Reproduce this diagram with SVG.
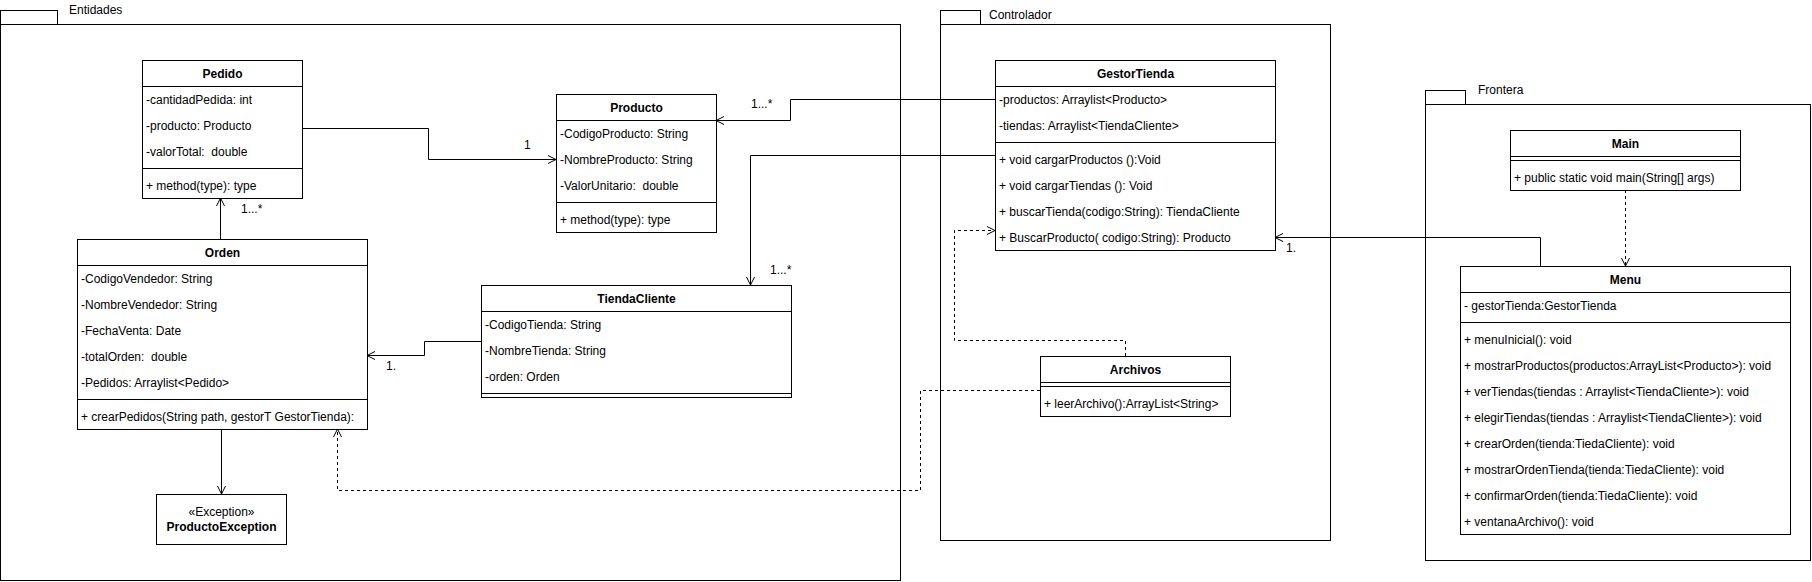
<svg xmlns="http://www.w3.org/2000/svg" width="1812" height="582" viewBox="0 0 1812 582">
<style>
text{font-family:"Liberation Sans",Arial,sans-serif;font-size:12px;fill:#000;white-space:pre}
.t{font-weight:bold;text-anchor:middle}
.c{text-anchor:middle}
.box{fill:#fff;stroke:#000;stroke-width:1}
.pkg{fill:none;stroke:#000;stroke-width:1}
.ln{fill:none;stroke:#000;stroke-width:1}
.conn{fill:none;stroke:#000;stroke-width:1;marker-end:url(#open)}
.dash{stroke-dasharray:3 3}
</style>
<defs>
<marker id="open" markerUnits="userSpaceOnUse" markerWidth="10" markerHeight="10" viewBox="0 0 10 10" refX="9" refY="5" orient="auto">
<path d="M1,1 L9,5 L1,9" fill="none" stroke="#000" stroke-width="1" stroke-dasharray="none"/>
</marker>
</defs>
<rect width="1812" height="582" fill="#fff"/>

<g id="pkg-entidades">
<rect class="pkg" x="0.5" y="10.5" width="57" height="14"/>
<rect class="pkg" x="0.5" y="24.5" width="900" height="556"/>
<text x="69" y="14">Entidades</text>
</g>
<g id="pkg-controlador">
<rect class="pkg" x="940.5" y="10.5" width="40" height="14"/>
<rect class="pkg" x="940.5" y="24.5" width="390" height="516"/>
<text x="989" y="19">Controlador</text>
</g>
<g id="pkg-frontera">
<rect class="pkg" x="1425.5" y="90.5" width="40" height="14"/>
<rect class="pkg" x="1425.5" y="104.5" width="385" height="456"/>
<text x="1478" y="94">Frontera</text>
</g>

<g id="connectors">
<path class="conn" d="M302,128.5 H428.5 V159.5 H556"/>
<text x="524" y="149">1</text>
<path class="conn" d="M995,99.5 H790.5 V120.5 H716"/>
<text x="751" y="108">1...*</text>
<path class="conn" d="M995,155.5 H750.5 V285"/>
<text x="770" y="274">1...*</text>
<path class="conn" d="M481,341.5 H424.5 V355.5 H367"/>
<text x="386" y="370">1.</text>
<path class="conn" d="M220.5,239 V198"/>
<text x="241" y="213">1...*</text>
<path class="conn" d="M221.5,429 V494"/>
<path class="conn dash" d="M1125.5,356 V340.5 H954.5 V230.5 H995"/>
<path class="conn dash" d="M1040,390.5 H920.5 V490.5 H337.5 V429"/>
<path class="conn dash" d="M1625.5,190 V266"/>
<path class="conn" d="M1540.5,266 V237.5 H1275"/>
<text x="1286" y="252">1.</text>
</g>

<g id="Pedido">
<rect class="box" x="142.5" y="60.5" width="160" height="138"/>
<line class="ln" x1="142.5" y1="86.5" x2="302.5" y2="86.5"/>
<line class="ln" x1="142.5" y1="168.5" x2="302.5" y2="168.5"/>
<text class="t" x="222.5" y="78">Pedido</text>
<text x="146" y="104">-cantidadPedida: int</text>
<text x="146" y="130">-producto: Producto</text>
<text x="146" y="156">-valorTotal:  double</text>
<text x="146" y="190">+ method(type): type</text>
</g>

<g id="Producto">
<rect class="box" x="556.5" y="94.5" width="160" height="138"/>
<line class="ln" x1="556.5" y1="120.5" x2="716.5" y2="120.5"/>
<line class="ln" x1="556.5" y1="202.5" x2="716.5" y2="202.5"/>
<text class="t" x="636.5" y="112">Producto</text>
<text x="560" y="138">-CodigoProducto: String</text>
<text x="560" y="164">-NombreProducto: String</text>
<text x="560" y="190">-ValorUnitario:  double</text>
<text x="560" y="224">+ method(type): type</text>
</g>

<g id="TiendaCliente">
<rect class="box" x="481.5" y="285.5" width="310" height="112"/>
<line class="ln" x1="481.5" y1="311.5" x2="791.5" y2="311.5"/>
<line class="ln" x1="481.5" y1="393.5" x2="791.5" y2="393.5"/>
<text class="t" x="636.5" y="303">TiendaCliente</text>
<text x="485" y="329">-CodigoTienda: String</text>
<text x="485" y="355">-NombreTienda: String</text>
<text x="485" y="381">-orden: Orden</text>
</g>

<g id="Orden">
<rect class="box" x="77.5" y="239.5" width="290" height="190"/>
<line class="ln" x1="77.5" y1="265.5" x2="367.5" y2="265.5"/>
<line class="ln" x1="77.5" y1="399.5" x2="367.5" y2="399.5"/>
<text class="t" x="222.5" y="257">Orden</text>
<text x="81" y="283">-CodigoVendedor: String</text>
<text x="81" y="309">-NombreVendedor: String</text>
<text x="81" y="335">-FechaVenta: Date</text>
<text x="81" y="361">-totalOrden:  double</text>
<text x="81" y="387">-Pedidos: Arraylist&lt;Pedido&gt;</text>
<text x="81" y="421">+ crearPedidos(String path, gestorT GestorTienda):</text>
</g>

<g id="ProductoException">
<rect class="box" x="156.5" y="494.5" width="130" height="50"/>
<text class="c" x="221.5" y="516">«Exception»</text>
<text class="t" x="221.5" y="531">ProductoException</text>
</g>

<g id="GestorTienda">
<rect class="box" x="995.5" y="60.5" width="280" height="190"/>
<line class="ln" x1="995.5" y1="86.5" x2="1275.5" y2="86.5"/>
<line class="ln" x1="995.5" y1="142.5" x2="1275.5" y2="142.5"/>
<text class="t" x="1135.5" y="78">GestorTienda</text>
<text x="999" y="104">-productos: Arraylist&lt;Producto&gt;</text>
<text x="999" y="130">-tiendas: Arraylist&lt;TiendaCliente&gt;</text>
<text x="999" y="164">+ void cargarProductos ():Void</text>
<text x="999" y="190">+ void cargarTiendas (): Void</text>
<text x="999" y="216">+ buscarTienda(codigo:String): TiendaCliente</text>
<text x="999" y="242">+ BuscarProducto( codigo:String): Producto</text>
</g>

<g id="Archivos">
<rect class="box" x="1040.5" y="356.5" width="190" height="60"/>
<line class="ln" x1="1040.5" y1="382.5" x2="1230.5" y2="382.5"/>
<line class="ln" x1="1040.5" y1="386.5" x2="1230.5" y2="386.5"/>
<text class="t" x="1135.5" y="374">Archivos</text>
<text x="1044" y="408">+ leerArchivo():ArrayList&lt;String&gt;</text>
</g>

<g id="Main">
<rect class="box" x="1510.5" y="130.5" width="230" height="60"/>
<line class="ln" x1="1510.5" y1="156.5" x2="1740.5" y2="156.5"/>
<line class="ln" x1="1510.5" y1="160.5" x2="1740.5" y2="160.5"/>
<text class="t" x="1625.5" y="148">Main</text>
<text x="1514" y="182">+ public static void main(String[] args)</text>
</g>

<g id="Menu">
<rect class="box" x="1460.5" y="266.5" width="330" height="268"/>
<line class="ln" x1="1460.5" y1="292.5" x2="1790.5" y2="292.5"/>
<line class="ln" x1="1460.5" y1="322.5" x2="1790.5" y2="322.5"/>
<text class="t" x="1625.5" y="284">Menu</text>
<text x="1464" y="310">- gestorTienda:GestorTienda</text>
<text x="1464" y="344">+ menuInicial(): void</text>
<text x="1464" y="370">+ mostrarProductos(productos:ArrayList&lt;Producto&gt;): void</text>
<text x="1464" y="396">+ verTiendas(tiendas : Arraylist&lt;TiendaCliente&gt;): void</text>
<text x="1464" y="422">+ elegirTiendas(tiendas : Arraylist&lt;TiendaCliente&gt;): void</text>
<text x="1464" y="448">+ crearOrden(tienda:TiedaCliente): void</text>
<text x="1464" y="474">+ mostrarOrdenTienda(tienda:TiedaCliente): void</text>
<text x="1464" y="500">+ confirmarOrden(tienda:TiedaCliente): void</text>
<text x="1464" y="526">+ ventanaArchivo(): void</text>
</g>
</svg>
